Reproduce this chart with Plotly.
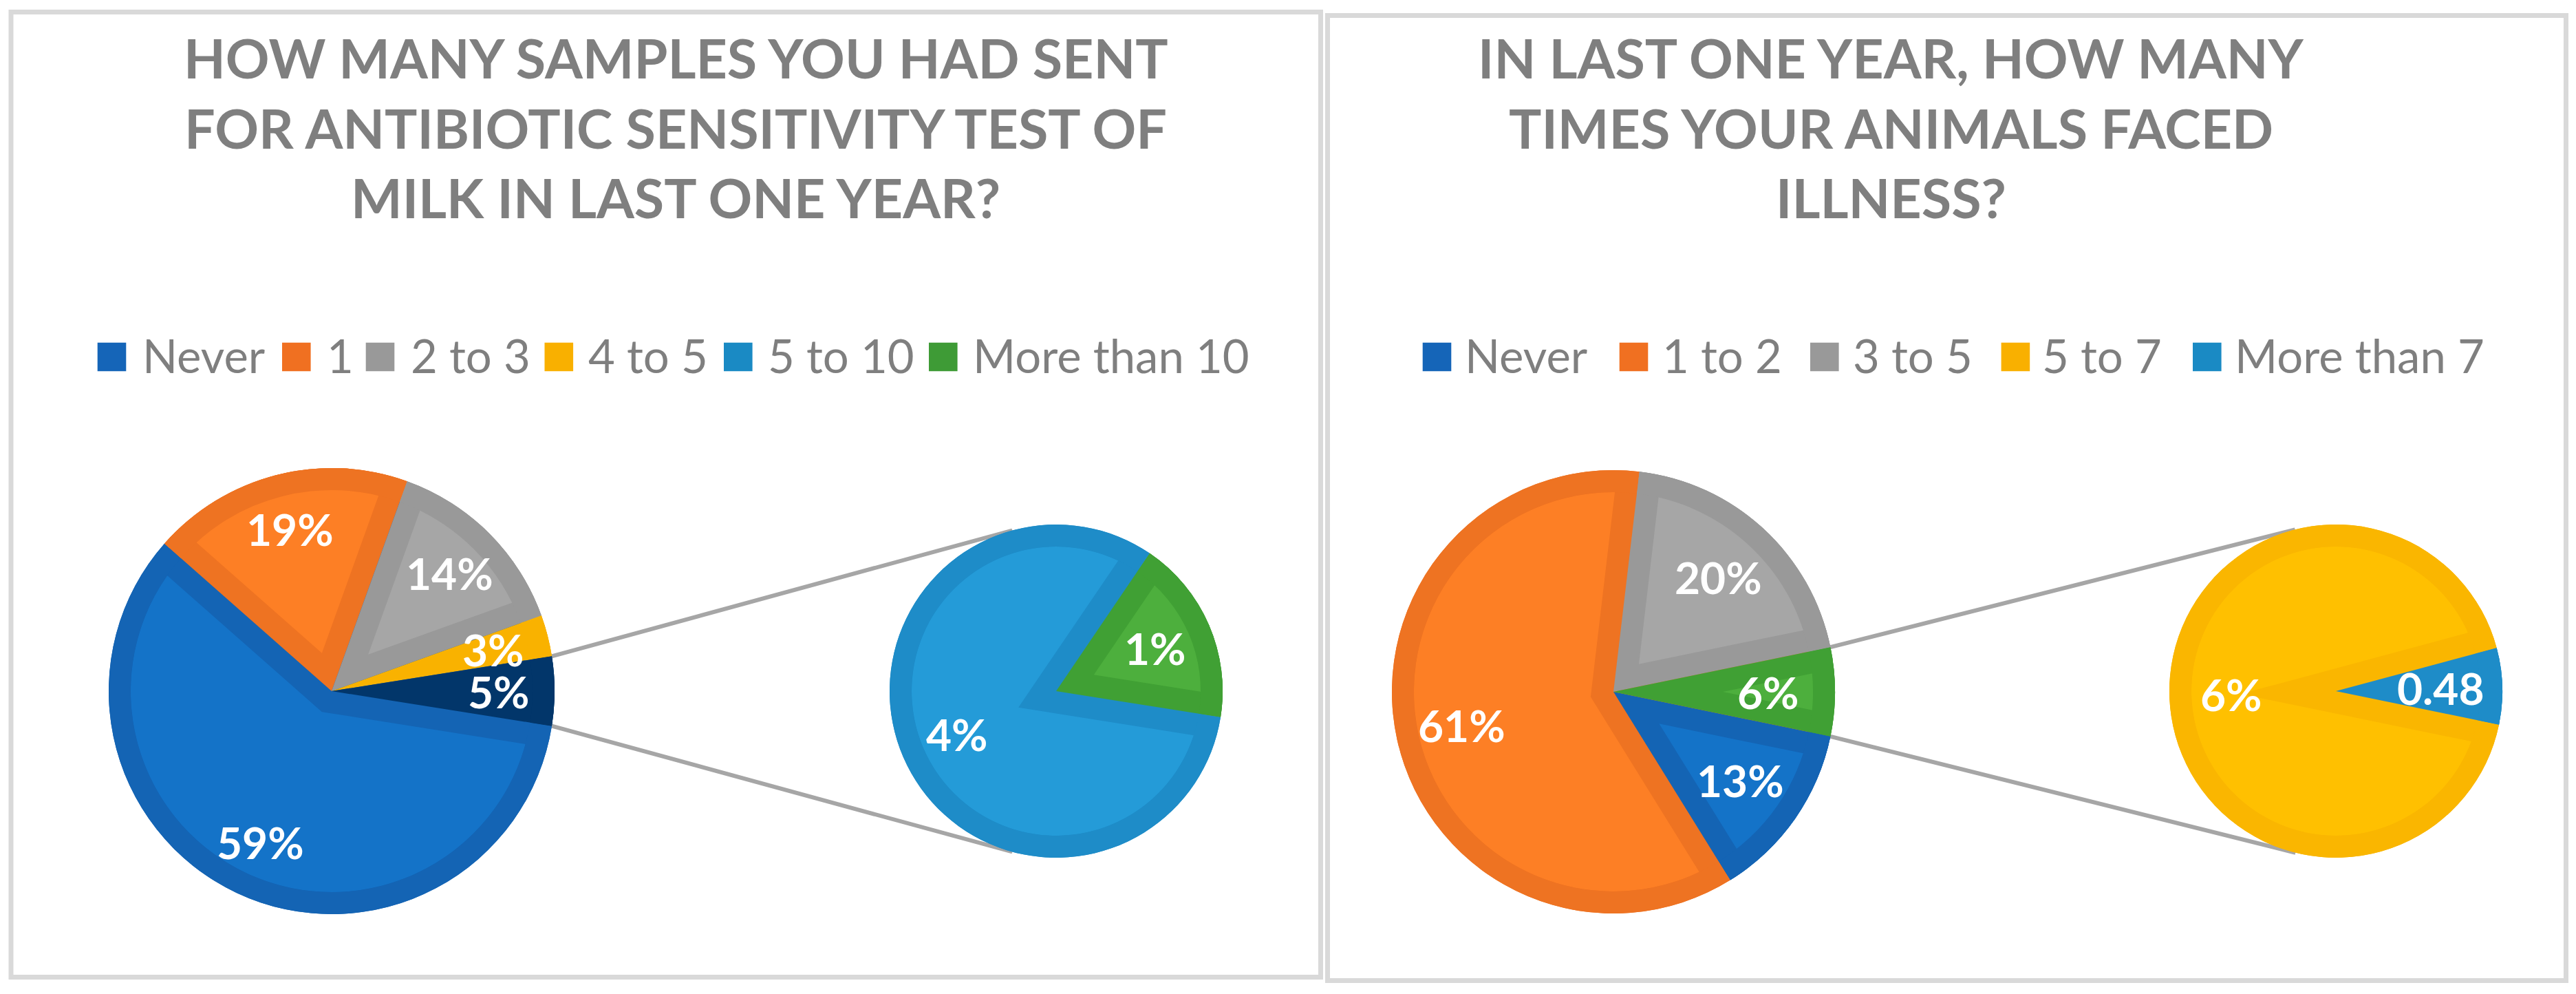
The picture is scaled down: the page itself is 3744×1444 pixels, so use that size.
import math
import plotly.graph_objects as go

W, H = 3744, 1444

# ------------------------------------------------------------------ data
left_title_lines = ["HOW MANY SAMPLES YOU HAD SENT",
                    "FOR ANTIBIOTIC SENSITIVITY TEST OF",
                    "MILK IN LAST ONE YEAR?"]
left_main_categories = ["Never", "1", "2 to 3", "4 to 5"]
left_main_values = [59, 19, 14, 3]
left_sub_categories = ["5 to 10", "More than 10"]
left_sub_values = [4.1, 0.9]
left_main_labels = ["59%", "19%", "14%", "3%", "5%"]
left_sub_labels = ["4%", "1%"]

right_title_lines = ["IN LAST ONE YEAR, HOW MANY",
                     "TIMES YOUR ANIMALS FACED",
                     "ILLNESS?"]
right_main_categories = ["Never", "1 to 2", "3 to 5"]
right_main_values = [13, 61, 20]
right_sub_categories = ["5 to 7", "More than 7"]
right_sub_values = [6, 0.48]
right_main_labels = ["13%", "61%", "20%", "6%"]
right_sub_labels = ["6%", "0.48"]

# ------------------------------------------------------------------ styles
TRANSP = "rgba(0,0,0,0)"
BLUE = ("#1464B4", "#1473C8")
ORANGE = ("#EE7322", "#FD7F25")
GRAY = ("#999999", "#A6A6A6")
YELLOW_S = ("#F9B200", "#F9B200")
NAVY = ("#02366A", "#02366A")
LBLUE = ("#1E8CC8", "#249BD8")
GREEN = ("#40A034", "#4DAF3D")
YELLOW = ("#FAB600", "#FFC000")
LBLUE_S = ("#1E8CC8", "#1E8CC8")

left_main_colors = [BLUE, ORANGE, GRAY, YELLOW_S, NAVY]
left_sub_colors = [LBLUE, GREEN]
right_main_colors = [BLUE, ORANGE, GRAY, GREEN]
right_sub_colors = [YELLOW, LBLUE_S]

left_legend_colors = ["#1565B8", "#F07021", "#999999", "#F9B000", "#1A8AC4", "#3E9B36"]
right_legend_colors = ["#1565B8", "#F07021", "#999999", "#F9B000", "#1A8AC4"]

TEXT_GRAY = "#7F7F7F"
FONT = "Lato"
RIM = 32

fig = go.Figure()


def dom(x, y, r):
    return dict(x=[(x - r) / W, (x + r) / W], y=[1 - (y + r) / H, 1 - (y - r) / H])


def add_pie(x, y, r, vals, cols, rotation, hole=0.0):
    fig.add_trace(go.Pie(values=vals, sort=False, direction="clockwise",
                         rotation=rotation % 360, hole=hole, domain=dom(x, y, r),
                         marker=dict(colors=cols, line=dict(width=0)),
                         textinfo="none", hoverinfo="skip", showlegend=False))


def unit(compass_deg):
    b = math.radians(compass_deg)
    return math.sin(b), -math.cos(b)


def pie_geom(values, rot):
    total = sum(values)
    ext = [360.0 * v / total for v in values]
    starts = []
    a = rot
    for e in ext:
        starts.append(a)
        a += e
    return starts, ext


def bevel_pie(cx, cy, R, values, colors, rot, w=RIM):
    total = sum(values)
    n = len(values)
    starts, ext = pie_geom(values, rot)
    dark = [c[0] for c in colors]
    light = [c[1] for c in colors]
    # base
    add_pie(cx, cy, R, values, dark, rot)
    # largest (reflex) slice: light disk then dark band around the complement
    s = max(range(n), key=lambda i: ext[i])
    add_pie(cx, cy, R - w, [1], [light[s]], 0)
    c_ext = 360.0 - ext[s]
    c_start = starts[s] + ext[s]
    ux, uy = unit(c_start + c_ext / 2)
    dp = w / math.sin(math.radians(c_ext / 2))
    add_pie(cx - dp * ux, cy - dp * uy, R - w + dp,
            [total - values[s], values[s]], [dark[s], TRANSP], c_start)
    add_pie(cx, cy, R, values, [TRANSP if i == s else dark[i] for i in range(n)], rot)
    # inner lighter wedges of the other slices
    for i in range(n):
        if i == s or light[i] == dark[i]:
            continue
        d = w / math.sin(math.radians(ext[i] / 2))
        ux, uy = unit(starts[i] + ext[i] / 2)
        add_pie(cx + d * ux, cy + d * uy, R - d,
                [values[i], total - values[i]], [light[i], TRANSP], starts[i])
    # outer rim
    add_pie(cx, cy, R, values, dark, rot, hole=(R - w) / R)
    return starts, ext


annotations = []
shapes = []


def slice_labels(cx, cy, R, starts, ext, labels, frac):
    for st, e, lab in zip(starts, ext, labels):
        ux, uy = unit(st + e / 2)
        annotations.append(dict(x=cx + frac * R * ux, y=cy + frac * R * uy, xref="x", yref="y",
                                text=lab, showarrow=False, xanchor="center", yanchor="middle",
                                font=dict(family=FONT, size=64, color="white", weight="bold")))


def connectors(cx, cy, R, starts, ext, sx, sy, r2):
    corners = [starts[-1], starts[-1] + ext[-1]]
    for ang in corners:
        ux, uy = unit(ang)
        px, py = cx + R * ux, cy + R * uy
        vx, vy = px - sx, py - sy
        D = math.hypot(vx, vy)
        phi = math.atan2(vy, vx)
        al = math.acos(r2 / D)
        cands = [(sx + r2 * math.cos(phi + sgn * al), sy + r2 * math.sin(phi + sgn * al)) for sgn in (1, -1)]
        if py < cy:
            tx, ty = min(cands, key=lambda t: t[1])
        else:
            tx, ty = max(cands, key=lambda t: t[1])
        fig.add_trace(go.Scatter(x=[px, tx], y=[py, ty], mode="lines",
                                 line=dict(color="#A6A6A6", width=6),
                                 hoverinfo="skip", showlegend=False))


def pie_of_pie(main_vals, sub_vals, main_cols, sub_cols, main_labels, sub_labels,
               mc, sc, Rm, Rs, fm, fs):
    other = sum(sub_vals)
    mv = list(main_vals) + [other]
    rot = 90 + 180.0 * other / sum(mv)
    connectors(mc[0], mc[1], Rm, *pie_geom(mv, rot), sc[0], sc[1], Rs)
    st, ex = bevel_pie(mc[0], mc[1], Rm, mv, main_cols, rot)
    slice_labels(mc[0], mc[1], Rm, st, ex, main_labels, fm)
    st2, ex2 = bevel_pie(sc[0], sc[1], Rs, list(sub_vals), sub_cols, rot)
    slice_labels(sc[0], sc[1], Rs, st2, ex2, sub_labels, fs)


pie_of_pie(left_main_values, left_sub_values, left_main_colors, left_sub_colors,
           left_main_labels, left_sub_labels, (482, 1004), (1535, 1004), 324, 242, 0.75, 0.65)
pie_of_pie(right_main_values, right_sub_values, right_main_colors, right_sub_colors,
           right_main_labels, right_sub_labels, (2345, 1005), (3395, 1004), 322, 242, 0.70, 0.63)

# titles
for lines, xc in ((left_title_lines, 982), (right_title_lines, 2748)):
    for line, yc in zip(lines, (83.5, 185, 286)):
        annotations.append(dict(x=xc, y=yc, xref="x", yref="y", text=line, showarrow=False,
                                xanchor="center", yanchor="middle",
                                font=dict(family=FONT, size=79, color=TEXT_GRAY, weight="bold")))

# legends
left_legend_names = left_main_categories + left_sub_categories
right_legend_names = right_main_categories + right_sub_categories
legend_specs = [
    (left_legend_names, left_legend_colors, [141.7, 410, 531.7, 791.5, 1052, 1350],
     [205, 473, 594.5, 853, 1114, 1412]),
    (right_legend_names, right_legend_colors, [2067.7, 2353.7, 2631, 2908.6, 3187],
     [2127, 2414, 2691, 2966, 3246]),
]
for names, cols, sxs, txs in legend_specs:
    for name, col, sx, tx in zip(names, cols, sxs, txs):
        shapes.append(dict(type="rect", xref="x", yref="y", x0=sx, x1=sx + 41.6, y0=497.7, y1=539.3,
                           fillcolor=col, line=dict(width=0)))
        annotations.append(dict(x=tx, y=516, xref="x", yref="y", text=name, showarrow=False,
                                xanchor="left", yanchor="middle",
                                font=dict(family=FONT, size=67, color=TEXT_GRAY)))

# panel frames
shapes.append(dict(type="rect", xref="x", yref="y", x0=16, y0=17.5, x1=1919.5, y1=1419.5,
                   line=dict(color="#D9D9D9", width=7), layer="below"))
shapes.append(dict(type="rect", xref="x", yref="y", x0=1929.5, y0=22.5, x1=3729.5, y1=1424.5,
                   line=dict(color="#D9D9D9", width=7), layer="below"))

fig.update_layout(
    width=W, height=H, autosize=False,
    margin=dict(l=0, r=0, t=0, b=0),
    paper_bgcolor="white", plot_bgcolor="white",
    xaxis=dict(range=[0, W], visible=False, fixedrange=True),
    yaxis=dict(range=[H, 0], visible=False, fixedrange=True),
    annotations=annotations, shapes=shapes, showlegend=False,
)

fig.write_html("out.html", config={"displayModeBar": False},
               post_script="document.body.style.margin='0px';document.body.style.overflow='hidden';")
